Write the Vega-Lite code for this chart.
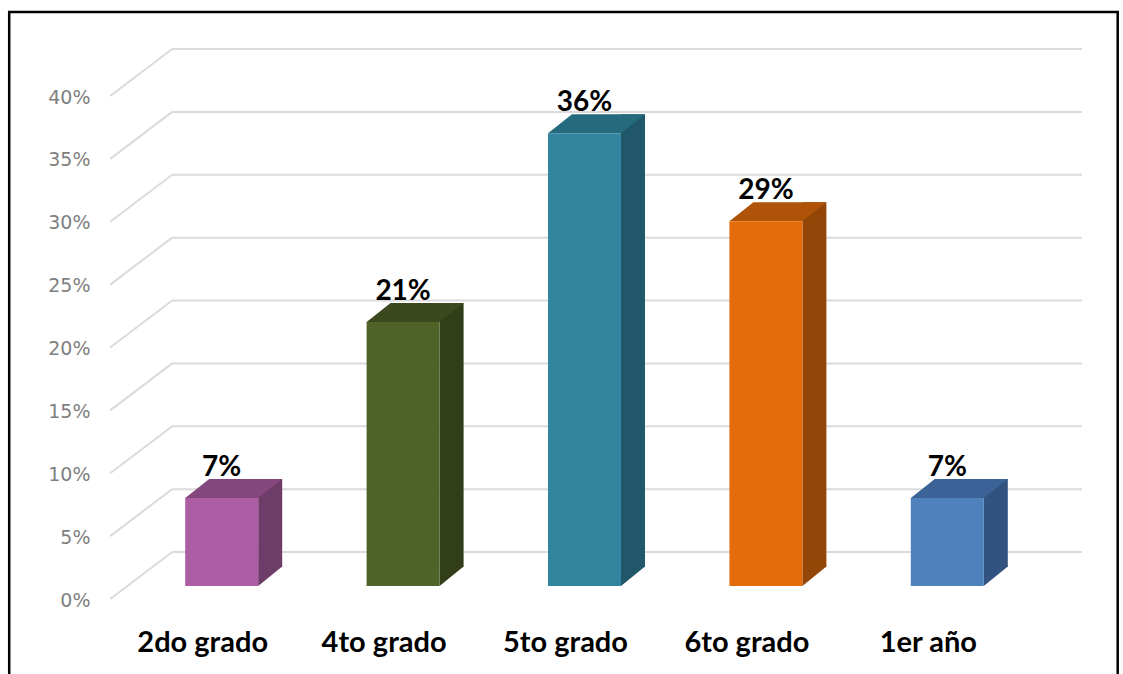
{
"$schema":"https://vega.github.io/schema/vega-lite/v6.json",
"width":907,"height":503,
"autosize":{"type":"none"},
"padding":{"left":131,"top":83,"right":85,"bottom":88},
"background":"white",
"config":{"view":{"stroke":null}},
"datasets":{
"bars":[
{"grado":"2do grado","pct":0.07},
{"grado":"4to grado","pct":0.21},
{"grado":"5to grado","pct":0.36},
{"grado":"6to grado","pct":0.29},
{"grado":"1er año","pct":0.07}],
"grid":[{"v":0},{"v":0.05},{"v":0.10},{"v":0.15},{"v":0.20},{"v":0.25},{"v":0.30},{"v":0.35},{"v":0.40}]
},
"encoding":{
"x":{"field":"grado","type":"nominal","sort":null,"scale":{"domain":["2do grado","4to grado","5to grado","6to grado","1er año"],"paddingInner":0,"paddingOuter":0},
"axis":{"title":null,"labelAngle":0,"domain":false,"ticks":false,"labelFont":"Lato","labelFontWeight":"bold","labelFontSize":29,"labelColor":"#000000","labelPadding":56,"labelBaseline":"middle","labelFlush":false,"labelOffset":-19}}
},
"layer":[
{"data":{"name":"grid"},
"mark":{"type":"rule","stroke":"#DBDBDB","strokeWidth":2,"xOffset":41,"x2Offset":44,"yOffset":-34},
"encoding":{"x":{"value":0},"x2":{"value":907},"y":{"field":"v","type":"quantitative","scale":{"domain":[0,0.4],"nice":false,"zero":true},
"axis":{"title":null,"values":[0,0.05,0.1,0.15,0.2,0.25,0.3,0.35,0.4],"format":".0%","domain":false,"ticks":false,"grid":false,"labelFont":"DejaVu Sans","labelFontSize":19,"labelColor":"#7F7F7F","labelPadding":41,"labelOffset":14}}}},
{"data":{"name":"grid"},
"mark":{"type":"point","shape":"M-111.5 13L-49.5 -34","size":4,"filled":false,"stroke":"#DBDBDB","strokeWidth":2,"opacity":1},
"encoding":{"x":{"datum":"2do grado"},"y":{"field":"v","type":"quantitative"}}},
{"data":{"values":[{"marco":"borde"}]},
"mark":{"type":"point","shape":"M-212.5 100L-212.5 -574L896 -574L896 100","size":4,"filled":false,"stroke":"#000000","strokeWidth":2.5,"opacity":1},
"encoding":{"x":{"datum":"2do grado"},"y":{"datum":0}}},
{"data":{"name":"bars"},
"mark":{"type":"bar","size":24,"xOffset":48.5,"x2Offset":48.5,"yOffset":-19,"y2Offset":-19},
"encoding":{"y":{"field":"pct","type":"quantitative"},"y2":{"datum":0},
"fill":{"field":"grado","type":"nominal","legend":null,"scale":{"domain":["2do grado","4to grado","5to grado","6to grado","1er año"],"range":["#6E3C69","#323D19","#20586A","#934607","#325380"]}}}},
{"data":{"name":"bars"},
"mark":{"type":"point","shape":"M36.5 -19.5L36.5 0L60.5 -19.5Z","size":4,"filled":true,"opacity":1,"strokeWidth":0},
"encoding":{"y":{"datum":0},
"fill":{"field":"grado","type":"nominal","legend":null,"scale":{"domain":["2do grado","4to grado","5to grado","6to grado","1er año"],"range":["#6E3C69","#323D19","#20586A","#934607","#325380"]}}}},
{"data":{"name":"bars"},
"mark":{"type":"point","shape":"M-36.5 0L36.5 0L60.5 -19L-12.5 -19Z","size":4,"filled":true,"opacity":1,"strokeWidth":0},
"encoding":{"y":{"field":"pct","type":"quantitative"},
"fill":{"field":"grado","type":"nominal","legend":null,"scale":{"domain":["2do grado","4to grado","5to grado","6to grado","1er año"],"range":["#83477D","#3C491E","#266A7E","#AF5308","#3C6398"]}}}},
{"data":{"name":"bars"},
"mark":{"type":"bar","size":73},
"encoding":{"y":{"field":"pct","type":"quantitative"},"y2":{"datum":0},
"fill":{"field":"grado","type":"nominal","legend":null,"scale":{"domain":["2do grado","4to grado","5to grado","6to grado","1er año"],"range":["#AC5DA4","#4F6228","#32859F","#E46C0A","#4F81BD"]}}}},
{"data":{"name":"bars"},
"mark":{"type":"text","font":"Lato","fontWeight":"bold","fontSize":28,"color":"#000000","baseline":"middle","yOffset":-30},
"encoding":{"y":{"field":"pct","type":"quantitative"},"text":{"field":"pct","type":"quantitative","format":".0%"}}}
],
"resolve":{"scale":{"fill":"independent"}}
}
